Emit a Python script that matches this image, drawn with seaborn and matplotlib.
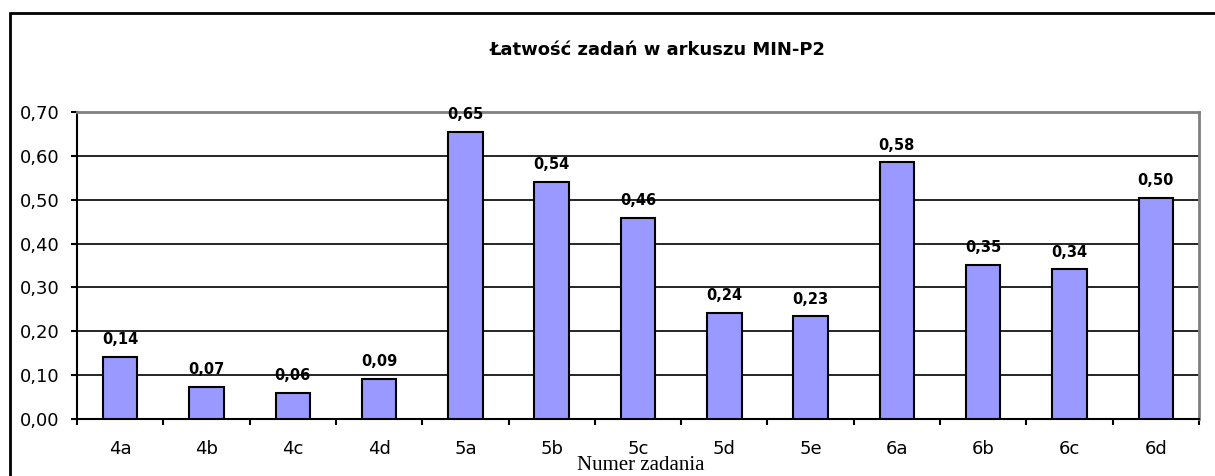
import pandas as pd
import seaborn as sns
import matplotlib.pyplot as plt
from matplotlib.patches import Rectangle

# task numbers and their facility (latwosc) values
zadania = ["4a", "4b", "4c", "4d", "5a", "5b", "5c", "5d", "5e", "6a", "6b", "6c", "6d"]
latwosc = [0.141, 0.074, 0.059, 0.091, 0.654, 0.541, 0.459, 0.242, 0.234, 0.585, 0.351, 0.341, 0.504]
y_ticks = [0.0, 0.1, 0.2, 0.3, 0.4, 0.5, 0.6, 0.7]

df = pd.DataFrame({"Zadanie": zadania, "Latwosc": latwosc})

sns.set_style("white")
plt.rcParams["font.family"] = ["DejaVu Sans"]
plt.rcParams.update({"text.color": "black", "xtick.color": "black",
                     "ytick.color": "black", "axes.labelcolor": "black"})

fig = plt.figure(figsize=(12.15, 4.76), dpi=100)
ax = fig.add_axes([77 / 1215, 1 - 419 / 476, (1199 - 77) / 1215, (419 - 112) / 476])

# outer chart frame
fig.patches.append(
    Rectangle((10 / 1215, -0.1), 1.2, 1 - 13 / 476 + 0.1, transform=fig.transFigure,
              fill=False, edgecolor="black", linewidth=2, zorder=0)
)

sns.barplot(
    data=df, x="Zadanie", y="Latwosc", color="#9999FF", saturation=1,
    edgecolor="black", linewidth=1.5, width=0.4, ax=ax, zorder=3,
)

# value labels above bars
for i, v in enumerate(latwosc):
    ax.annotate(
        ("%.2f" % v).replace(".", ","), (i, v), xytext=(0, 7), textcoords="offset points",
        ha="center", va="bottom", fontsize=10.5, fontweight="bold", zorder=4,
    )

ax.set_xlim(-0.5, len(zadania) - 0.5)
ax.set_ylim(0, 0.7)
ax.set_yticks(y_ticks)
ax.set_yticklabels([("%.2f" % t).replace(".", ",") for t in y_ticks], fontsize=13)
ax.yaxis.grid(True, color="black", linewidth=1.2, zorder=0)
ax.set_axisbelow(True)

# ticks between categories on the x axis
ax.set_xticks(range(len(zadania)))
ax.set_xticklabels(zadania, fontsize=13)
ax.set_xticks([i - 0.5 for i in range(len(zadania) + 1)], minor=True)
ax.tick_params(axis="x", which="major", length=0, pad=15)
ax.tick_params(axis="x", which="minor", length=4.5, width=1.5, direction="out", bottom=True)
ax.tick_params(axis="y", length=4.5, width=1.5, direction="out", left=True, pad=8)

for side in ["left", "bottom"]:
    ax.spines[side].set_color("black")
    ax.spines[side].set_linewidth(1.5)
for side in ["top", "right"]:
    ax.spines[side].set_color("#808080")
    ax.spines[side].set_linewidth(2)

ax.set_xlabel("")
ax.set_ylabel("")

fig.text(658 / 1215, 1 - 50 / 476, "Łatwość zadań w arkuszu MIN-P2",
         ha="center", va="center", fontsize=13, fontweight="bold")
fig.text(641 / 1215, 1 - 475 / 476, "Numer zadania", ha="center", va="bottom",
         fontsize=15, family=["Liberation Serif", "DejaVu Serif"])

fig.savefig("out.png", dpi=100)
